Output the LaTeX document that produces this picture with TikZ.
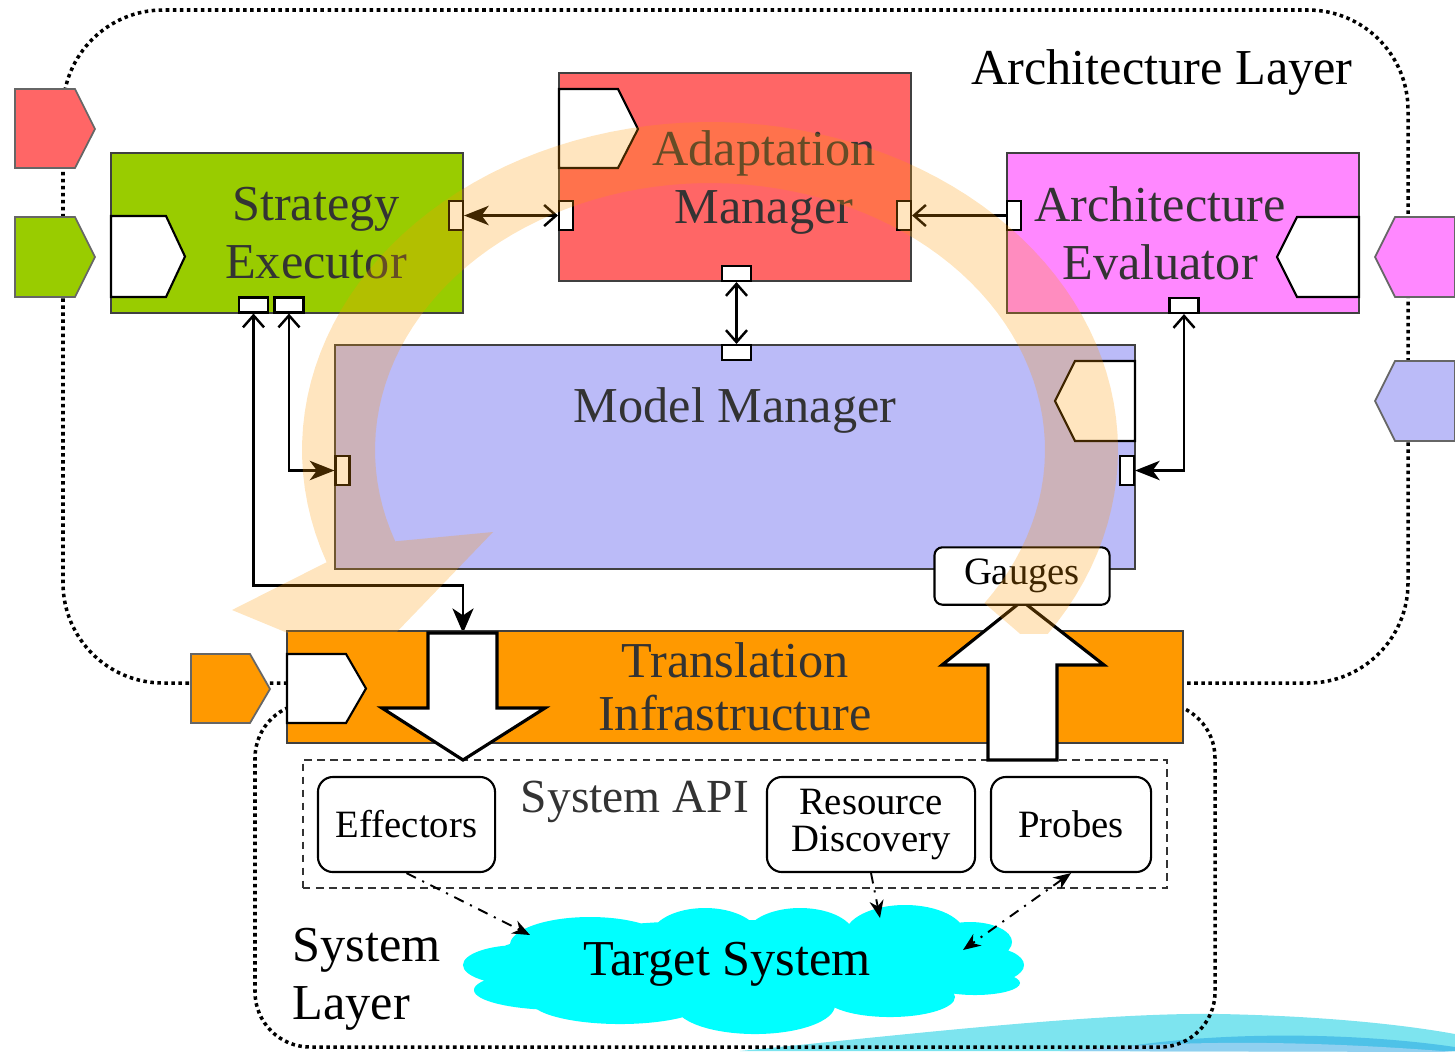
\documentclass[tikz,border=0pt]{standalone}
\usepackage{fontspec}
\setmainfont{Liberation Serif}
\usetikzlibrary{arrows.meta}
\definecolor{g1}{HTML}{99CC00}
\definecolor{r1}{HTML}{FF6666}
\definecolor{m1}{HTML}{FF88FF}
\definecolor{b1}{HTML}{BBBBF8}
\definecolor{o1}{HTML}{FF9900}
\definecolor{c1}{HTML}{00FFFF}
\definecolor{d1}{HTML}{404040}
\definecolor{t1}{HTML}{333333}
\definecolor{sw1}{HTML}{7DE4EF}
\definecolor{sw2}{HTML}{4EC2E8}
\definecolor{sw3}{HTML}{90D0F0}

\begin{document}
\begin{tikzpicture}[x=0.01cm,y=0.01cm,
  box/.style={draw=d1,line width=0.6pt,inner sep=0pt},
  vport/.style={draw,fill=white,line width=0.6pt,minimum width=0.14cm,minimum height=0.29cm,inner sep=0pt},
  hport/.style={draw,fill=white,line width=0.6pt,minimum width=0.29cm,minimum height=0.15cm,inner sep=0pt},
  boxtitle/.style={font=\fontsize{14.3}{16.5}\selectfont,text=t1,align=center},
  smalltext/.style={font=\fontsize{11}{10.5}\selectfont,align=center},
  apibox/.style={draw,fill=white,rounded corners=0.15cm,line width=0.6pt,smalltext,inner sep=0pt},
  tagout/.style={draw=gray!80!black,line width=0.5pt},
  tagin/.style={draw,fill=white,line width=0.6pt},
  link/.style={line width=0.7pt},
  layerline/.style={line width=1pt,dash pattern=on 1pt off 1pt},
  calllink/.style={line width=0.55pt,dash pattern=on 3pt off 2pt on 0.6pt off 2pt,-{Stealth[length=5pt,width=4pt]}},
  bigarrow/.style={draw,fill=white,line width=0.9pt}]
\useasboundingbox (0,0) rectangle (1455,-1051);
\fill[sw1] (740,-1051) .. controls (900,-1035) and (1100,-1012) .. (1220,-1014) .. controls (1320,-1016) and (1400,-1024) .. (1455,-1034) -- (1455,-1051) -- cycle;
\fill[sw2] (1130,-1046) .. controls (1230,-1031) and (1360,-1033) .. (1455,-1047) -- (1455,-1051) -- (1130,-1051) -- cycle;
\fill[sw3] (1060,-1051) .. controls (1160,-1042) and (1280,-1038) .. (1455,-1052) -- cycle;

\draw[layerline,rounded corners=1cm] (400,-683) -- (63,-683) -- (63,-10) -- (1408,-10) -- (1408,-683) -- (1100,-683);
\draw[layerline,rounded corners=0.55cm] (330,-703) -- (255,-703) -- (255,-1047) -- (1215,-1047) -- (1215,-703) -- (1140,-703);

\draw[tagout,fill=r1] (15,-89) -- ++(60,0) -- ++(20,-40) -- ++(-20,-39) -- ++(-60,0) -- cycle;
\draw[tagout,fill=g1] (15,-217) -- ++(60,0) -- ++(20,-40) -- ++(-20,-40) -- ++(-60,0) -- cycle;
\draw[tagout,fill=m1] (1455,-217) -- ++(-60,0) -- ++(-20,-40) -- ++(20,-40) -- ++(60,0) -- cycle;
\draw[tagout,fill=b1] (1455,-361) -- ++(-60,0) -- ++(-20,-40) -- ++(20,-40) -- ++(60,0) -- cycle;
\draw[tagout,fill=o1] (191,-654) -- ++(59,0) -- ++(20,-35) -- ++(-20,-34) -- ++(-59,0) -- cycle;

\node[box,fill=g1,minimum width=3.52cm,minimum height=1.6cm] (se) at (287,-233) {};
\node[box,fill=r1,minimum width=3.52cm,minimum height=2.08cm] (am) at (735,-177) {};
\node[box,fill=m1,minimum width=3.52cm,minimum height=1.6cm] (ae) at (1183,-233) {};
\node[box,fill=b1,minimum width=8cm,minimum height=2.24cm] (mm) at (735,-457) {};

\draw[tagin] (111,-216) -- ++(55,0) -- ++(19,-40.5) -- ++(-19,-40.5) -- ++(-55,0) -- cycle;
\draw[tagin] (559,-89) -- ++(59,0) -- ++(20,-40) -- ++(-20,-39) -- ++(-59,0) -- cycle;
\draw[tagin] (1359,-217) -- ++(-62,0) -- ++(-20,-40) -- ++(20,-40) -- ++(62,0) -- cycle;
\draw[tagin] (1135,-361) -- ++(-60,0) -- ++(-20,-40) -- ++(20,-40) -- ++(60,0) -- cycle;

\node[boxtitle] (se-txt) at (316,-233) {Strategy\\Executor};
\node[boxtitle] (am-txt) at (764,-182) {Adaptation\\Manager};
\node[boxtitle] (ae-txt) at (1160,-233) {Architecture\\Evaluator};
\node[boxtitle] (mm-txt) at (735,-410) {Model Manager};
\node[font=\fontsize{14.3}{16.5}\selectfont] (al) at (1162,-72) {Architecture Layer};

\node[vport] (se-r) at (456,-215.5) {};
\node[hport] (se-b1) at (253.5,-305) {};
\node[hport] (se-b2) at (289,-305) {};
\node[vport] (am-l) at (566,-215.5) {};
\node[vport] (am-r) at (904,-215.5) {};
\node[hport] (am-b) at (736.5,-273.5) {};
\node[vport] (ae-l) at (1014,-215.5) {};
\node[hport] (ae-b) at (1184,-305.5) {};
\node[hport] (mm-t) at (736.5,-352.5) {};
\node[vport] (mm-l) at (342.5,-470.5) {};
\node[vport] (mm-r) at (1127,-470.5) {};
\coordinate (dn) at (463,-633);

\draw[link,{Stealth[length=7pt,width=5.5pt,inset=2pt]}-{Straight Barb[length=3.4pt,width=6pt]}] (se-r) -- (am-l);
\draw[link,-{Straight Barb[length=3.4pt,width=6pt]}] (ae-l) -- (am-r);
\draw[link,{Straight Barb[length=3.4pt,width=6pt]}-{Straight Barb[length=3.4pt,width=6pt]}] (am-b) -- (mm-t);
\draw[link,{Straight Barb[length=3.4pt,width=6pt]}-{Stealth[length=7pt,width=5.5pt,inset=2pt]}] (ae-b) |- (mm-r);
\draw[link,{Straight Barb[length=3.4pt,width=6pt]}-{Stealth[length=7pt,width=5.5pt,inset=2pt]}] (se-b2) |- (mm-l);
\draw[link,{Straight Barb[length=3.4pt,width=6pt]}-{Stealth[length=7pt,width=6pt,inset=2pt]}] (se-b1.south) -- ++(0,-272) -| (dn);

\node[box,fill=o1,minimum width=8.96cm,minimum height=1.12cm,boxtitle,font=\fontsize{14.3}{15}\selectfont] (ti) at (735,-687) {Translation\\Infrastructure};
\draw[tagin] (287,-654) -- ++(59,0) -- ++(20,-34.5) -- ++(-20,-34.5) -- ++(-59,0) -- cycle;

\node[draw=t1,dash pattern=on 2.2pt off 1.5pt,line width=0.45pt,minimum width=8.64cm,minimum height=1.28cm] (api) at (735,-824) {};
\node[font=\fontsize{13.5}{16}\selectfont,text=t1] (api-txt) at (635,-802) {System API};
\node[apibox,minimum width=1.77cm,minimum height=0.95cm] (eff) at (406.5,-824.5) {Effectors};
\node[apibox,minimum width=2.08cm,minimum height=0.95cm] (rd) at (871,-824.5) {Resource\\Discovery};
\node[apibox,minimum width=1.6cm,minimum height=0.95cm] (prb) at (1071,-824.5) {Probes};

\fill[c1] (520,-965) ellipse [x radius=0.57cm, y radius=0.2cm]
  (560,-990) ellipse [x radius=0.86cm, y radius=0.2cm]
  (620,-1000) ellipse [x radius=0.9cm, y radius=0.24cm]
  (755,-1005) ellipse [x radius=0.8cm, y radius=0.29cm]
  (890,-997) ellipse [x radius=0.65cm, y radius=0.2cm]
  (975,-983) ellipse [x radius=0.45cm, y radius=0.12cm]
  (985,-965) ellipse [x radius=0.39cm, y radius=0.18cm]
  (970,-942) ellipse [x radius=0.42cm, y radius=0.2cm]
  (905,-935) ellipse [x radius=0.6cm, y radius=0.3cm]
  (800,-937) ellipse [x radius=0.55cm, y radius=0.29cm]
  (705,-938) ellipse [x radius=0.55cm, y radius=0.3cm]
  (590,-945) ellipse [x radius=0.8cm, y radius=0.28cm]
  (740,-965) ellipse [x radius=2.6cm, y radius=0.45cm];
\node[font=\fontsize{14.3}{16.5}\selectfont] (ts) at (727,-964) {Target System};
\node[anchor=west,align=left,inner sep=0pt,font=\fontsize{14.3}{16.5}\selectfont] (sl) at (292,-979) {System\\Layer};
\coordinate (ts-a) at (530,-935);
\coordinate (ts-b) at (880,-918);
\coordinate (ts-c) at (963,-950);
\draw[calllink] (eff.south) -- (ts-a);
\draw[calllink] (rd.south) -- (ts-b);
\draw[calllink,{Stealth[length=5pt,width=4pt]}-{Stealth[length=5pt,width=4pt]}] (prb.south) -- (ts-c);

\draw[bigarrow] (428,-633) -- (428,-708) -- (382,-708) -- (463,-760) -- (545,-708) -- (497,-708) -- (497,-633) -- cycle;
\draw[bigarrow] (988,-760) -- (988,-665) -- (942,-665) -- (1022,-601) -- (1104,-665) -- (1057,-665) -- (1057,-760) -- cycle;
\node[draw,fill=white,rounded corners=0.08cm,line width=0.6pt,minimum width=1.75cm,minimum height=0.52cm,smalltext] (gg) at (1022,-576) {Gauges};

\begin{scope}
\clip (0,0) rectangle (1455,-633);
\fill[o1,opacity=0.25] plot[domain=-37:200,samples=90] ({710+408*cos(\x)},{-450+328*sin(\x)}) -- (232,-610) -- (365,-665) -- (493,-532) -- plot[domain=200:-35,samples=90] ({710+335*cos(\x)},{-450+267*sin(\x)}) -- cycle;
\end{scope}
\end{tikzpicture}
\end{document}
